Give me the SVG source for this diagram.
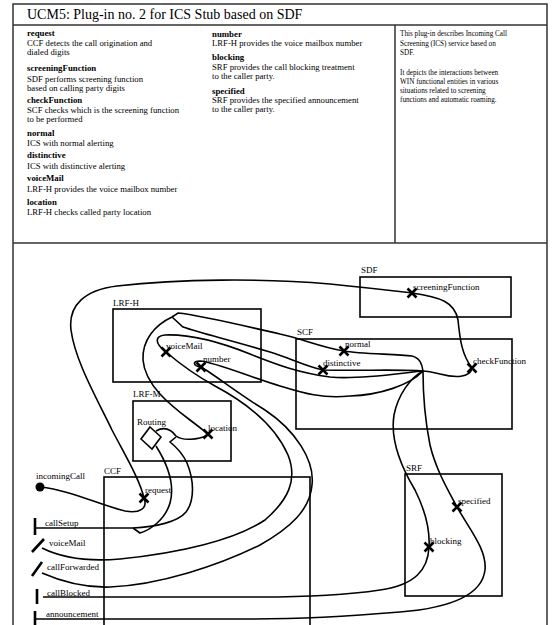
<svg xmlns="http://www.w3.org/2000/svg" width="560" height="625" viewBox="0 0 560 625">
<style>
text{font-family:"Liberation Serif","Times New Roman",serif;fill:#000}
.t{font-size:14px}
.h{font-size:8.8px;font-weight:bold}
.b{font-size:8.7px}
.d{font-size:7.2px}
.l{font-size:9px}
.frame{fill:none;stroke:#333;stroke-width:1.5}
.box{fill:none;stroke:#000;stroke-width:1.6}
.p{fill:none;stroke:#000;stroke-width:1.6}
.x{stroke:#000;stroke-width:2.6;fill:none}
.bar{stroke:#000;stroke-width:2.6;fill:none}
</style>
<defs>
<g id="xm"><path class="x" d="M-4.5,-4.5L4.5,4.5M-4.5,4.5L4.5,-4.5"/></g>
</defs>
<rect width="560" height="625" fill="#fff"/>
<g id="frame">
<path class="frame" d="M13,640V4H547V640"/>
<path class="frame" d="M13,25H547M13,243H547M395,25V243"/>
<text class="t" x="27" y="19">UCM5: Plug-in no. 2 for ICS Stub based on SDF</text>
</g>
<g id="legend">
<text class="h" x="27" y="36">request</text>
<text class="b" x="27" y="46">CCF detects the call origination and</text>
<text class="b" x="27" y="55">dialed digits</text>
<text class="h" x="27" y="71">screeningFunction</text>
<text class="b" x="27" y="82">SDF performs screening function</text>
<text class="b" x="27" y="91">based on calling party digits</text>
<text class="h" x="27" y="103">checkFunction</text>
<text class="b" x="27" y="113">SCF checks which is the screening function</text>
<text class="b" x="27" y="122">to be performed</text>
<text class="h" x="27" y="136">normal</text>
<text class="b" x="27" y="146">ICS with normal alerting</text>
<text class="h" x="27" y="158">distinctive</text>
<text class="b" x="27" y="169">ICS with distinctive alerting</text>
<text class="h" x="27" y="181">voiceMail</text>
<text class="b" x="27" y="192">LRF-H provides the voice mailbox number</text>
<text class="h" x="27" y="205">location</text>
<text class="b" x="27" y="215">LRF-H checks called party location</text>
<text class="h" x="212" y="37">number</text>
<text class="b" x="212" y="46">LRF-H provides the voice mailbox number</text>
<text class="h" x="212" y="60">blocking</text>
<text class="b" x="212" y="70">SRF provides the call blocking treatment</text>
<text class="b" x="212" y="79">to the caller party.</text>
<text class="h" x="212" y="94">specified</text>
<text class="b" x="212" y="103">SRF provides the specified announcement</text>
<text class="b" x="212" y="112">to the caller party.</text>
<text class="d" x="400" y="36">This plug-in describes Incoming Call</text>
<text class="d" x="400" y="46">Screening (ICS) service based on</text>
<text class="d" x="400" y="55">SDF.</text>
<text class="d" x="400" y="75">It depicts the interactions between</text>
<text class="d" x="400" y="84">WIN functional entities in various</text>
<text class="d" x="400" y="93">situations related to screening</text>
<text class="d" x="400" y="102">functions and automatic roaming.</text>
</g>
<g id="SDF">
<rect class="box" x="360" y="277" width="151" height="40"/>
<text class="l" x="361" y="273">SDF</text>
</g>
<g id="SCF">
<rect class="box" x="296" y="339" width="216" height="90"/>
<text class="l" x="297" y="335">SCF</text>
</g>
<g id="LRF-H">
<rect class="box" x="113" y="309" width="148" height="73"/>
<text class="l" x="113" y="306">LRF-H</text>
</g>
<g id="LRF-M">
<rect class="box" x="133" y="401" width="98" height="60"/>
<text class="l" x="133" y="397">LRF-M</text>
<text class="l" x="137" y="425">Routing</text>
<path class="box" d="M150,427L161,437L152,449L141,439Z" fill="#fff"/>
</g>
<g id="CCF">
<rect class="box" x="104" y="477" width="206" height="160"/>
<text class="l" x="104" y="474">CCF</text>
</g>
<g id="SRF">
<rect class="box" x="405" y="474" width="97" height="122"/>
<text class="l" x="406" y="471">SRF</text>
</g>
<g id="connectors">
<path class="p" d="M40,487C70,490 100,505 125,511C140,514 148,508 144,498C140,480 125,455 112,430C95,395 75,360 71,330C68,305 85,290 117,286C180,279 260,278 330,284C370,288 395,291 412,293C440,297 455,302 458,320C460,340 462,355 472,368C470,378 455,378 440,374C432,372 426,371 423,371"/>
<path class="p" d="M423,371C422,364 420,358 412,356C395,354 360,354 344,351C320,347 300,338 280,334C240,325 200,315 178,313L172,317"/>
<path class="p" d="M423,371C400,369 360,371 323,370C305,366 290,358 270,352C230,340 200,333 183,327L172,317"/>
<path class="p" d="M423,371C400,373 360,380 330,377C300,373 280,366 250,354C220,342 190,334 165,335C155,336 154,343 166,352C180,364 195,375 215,386C245,402 275,425 288,455C298,480 288,500 265,520C235,540 180,553 120,559C85,562 60,557 42,548"/>
<path class="p" d="M423,371C410,385 380,395 350,396C320,399 300,392 280,386C250,377 215,362 200,361C192,361 193,366 201,367C215,375 240,395 265,410C295,430 315,460 312,485C310,510 290,528 260,545C220,565 160,585 110,587C80,588 58,580 42,573"/>
<path class="p" d="M172,317C155,325 142,340 143,360C145,385 170,405 190,420C198,426 203,430 208,434"/>
<path class="p" d="M208,435C198,440 182,441 176,436C170,428 163,427 156,431"/>
<path class="p" d="M176,437L170,442C175,446 182,452 187,463C194,480 195,500 186,512C178,522 155,527 133,528"/>
<path class="p" d="M156,446C168,465 175,485 170,503C165,520 150,530 140,533L133,528"/>
<path class="p" d="M35,528H133"/>
<path class="p" d="M423,371C410,378 398,395 394,415C390,440 400,465 415,490C425,510 430,530 429,547C428,570 415,585 380,590C340,596 300,597 260,597L43,597"/>
<path class="p" d="M423,371C423,395 425,420 430,445C436,470 448,490 457,507C470,530 487,550 485,570C482,595 450,608 400,612C340,617 300,619 250,619L35,619"/>
<circle cx="40" cy="487" r="4.5" fill="#000"/>
<path class="bar" d="M35,518V535M32,552L44,539M32,576L42,562M37,589V604M35,611V628"/>
</g>
<g id="responsibilities">
<use href="#xm" x="144" y="498"/>
<use href="#xm" x="412" y="293"/>
<use href="#xm" x="472" y="368"/>
<use href="#xm" x="344" y="351"/>
<use href="#xm" x="323" y="370"/>
<use href="#xm" x="166" y="352"/>
<use href="#xm" x="201" y="367"/>
<use href="#xm" x="208" y="434"/>
<use href="#xm" x="429" y="547"/>
<use href="#xm" x="457" y="507"/>
<text class="l" x="145" y="493">request</text>
<text class="l" x="413" y="290">screeningFunction</text>
<text class="l" x="473" y="364">checkFunction</text>
<text class="l" x="345" y="347">normal</text>
<text class="l" x="323" y="366">distinctive</text>
<text class="l" x="166" y="349">voiceMail</text>
<text class="l" x="203" y="362">number</text>
<text class="l" x="208" y="431">location</text>
<text class="l" x="430" y="544">blocking</text>
<text class="l" x="458" y="504">specified</text>
<text class="l" x="36" y="479">incomingCall</text>
<text class="l" x="45" y="526">callSetup</text>
<text class="l" x="49" y="546">voiceMail</text>
<text class="l" x="47" y="570">callForwarded</text>
<text class="l" x="47" y="596">callBlocked</text>
<text class="l" x="46" y="617">announcement</text>
</g>
</svg>
